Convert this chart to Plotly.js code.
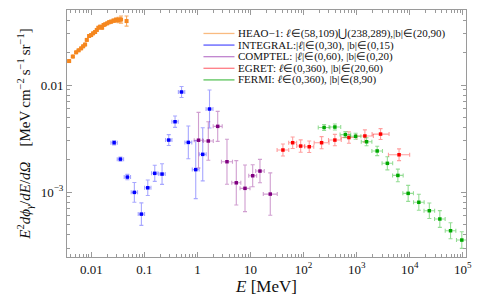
<!DOCTYPE html>
<html>
<head>
<meta charset="utf-8">
<script src="https://cdn.plot.ly/plotly-3.0.1.min.js"></script>
<style>
  html, body { margin: 0; padding: 0; background: #fff; }
  #chart { width: 480px; height: 305px; }
</style>
</head>
<body>
<div id="chart"></div>
<script>
// energies in MeV, fluxes E^2 dphi/dE/dOmega in MeV cm^-2 s^-1 sr^-1
// dx / dy are half widths of the error bars in decades

var heaoE = [0.0038, 0.00447, 0.00515, 0.00574, 0.0064, 0.00698, 0.0076, 0.00819, 0.00905, 0.00987,
             0.01076, 0.01174, 0.01264, 0.01355, 0.01459, 0.0159, 0.0170, 0.0181, 0.0198, 0.0216,
             0.0235, 0.0262, 0.0292, 0.0325, 0.0362, 0.0460];
var heaoF = [0.01675, 0.01845, 0.0202, 0.0211, 0.0220, 0.0230, 0.0239, 0.0264, 0.0287, 0.0293,
             0.0304, 0.0313, 0.0327, 0.0343, 0.0351, 0.0343, 0.0364, 0.0369, 0.0377, 0.0386,
             0.0391, 0.0399, 0.0405, 0.0405, 0.0409, 0.0396];
var heaoDx = [0.006, 0.006, 0.006, 0.006, 0.006, 0.006, 0.006, 0.006, 0.006, 0.006,
              0.006, 0.006, 0.006, 0.006, 0.006, 0.006, 0.006, 0.006, 0.006, 0.006,
              0.006, 0.006, 0.006, 0.006, 0.008, 0.012];
var heaoDy = [0.008, 0.008, 0.008, 0.008, 0.008, 0.008, 0.008, 0.008, 0.008, 0.008,
              0.008, 0.008, 0.008, 0.008, 0.008, 0.008, 0.008, 0.008, 0.008, 0.010,
              0.012, 0.015, 0.020, 0.025, 0.033, 0.047];

var integralE = [0.0268, 0.0352, 0.0476, 0.0645, 0.0875, 0.1154, 0.1563, 0.2145, 0.287, 0.377,
                 0.500, 0.671, 0.925, 1.253, 1.683];
var integralF = [0.00289, 0.00203, 0.00138, 0.000993, 0.000622, 0.001096, 0.001496, 0.001472, 0.00306, 0.00454,
                 0.00861, 0.00291, 0.00162, 0.00225, 0.00597];
var integralDx = [0.06, 0.06, 0.06, 0.06, 0.06, 0.06, 0.06, 0.06, 0.06, 0.06,
                  0.06, 0.065, 0.065, 0.065, 0.065];
var integralDy = [0.02, 0.02, 0.025, 0.092, 0.105, 0.072, 0.075, 0.096, 0.051, 0.053,
                  0.051, 0.153, 0.271, 0.248, 0.178];

var comptelE = [1.044, 1.597, 2.40, 3.59, 5.38, 7.85, 10.96, 15.03, 23.5];
var comptelF = [0.00305, 0.00300, 0.00411, 0.00192, 0.00122, 0.001083, 0.00142, 0.00157, 0.000957];
var comptelDx = [0.081, 0.094, 0.085, 0.104, 0.085, 0.094, 0.075, 0.081, 0.132];
var comptelDy = [0.26, 0.18, 0.14, 0.21, 0.207, 0.218, 0.103, 0.109, 0.198];

var egretE = [40.7, 62.1, 87.9, 127.5, 218, 388, 713, 1427, 2817, 6285];
var egretF = [0.00247, 0.00289, 0.00269, 0.00265, 0.00289, 0.00306, 0.00323, 0.00334, 0.00348, 0.00223];
var egretDx = [0.11, 0.075, 0.075, 0.085, 0.14, 0.12, 0.15, 0.16, 0.16, 0.2];
var egretDy = [0.056, 0.054, 0.058, 0.054, 0.057, 0.053, 0.054, 0.057, 0.051, 0.055];

var fermiE = [243, 388, 612, 953, 1535, 2432, 3784, 5970, 9330, 14830,
              23380, 36900, 58700, 95700];
var fermiF = [0.00401, 0.00405, 0.00344, 0.00332, 0.00295, 0.00242, 0.001855, 0.00143, 0.000972, 0.000802,
              0.000669, 0.000560, 0.000435, 0.000356];
var fermiDx = [0.11, 0.11, 0.1, 0.1, 0.1, 0.1, 0.1, 0.1, 0.1, 0.1, 0.1, 0.1, 0.1, 0.1];
var fermiDy = [0.028, 0.028, 0.028, 0.028, 0.037, 0.044, 0.061, 0.059, 0.075, 0.075,
               0.072, 0.078, 0.075, 0.078];

var legendLabels = [
    'HEAO\u22121: <i>\u2113</i>\u2208(58,109)\u22c3(238,289),|b|\u2208(20,90)',
    'INTEGRAL:|<i>\u2113</i>|\u2208(0,30), |b|\u2208(0,15)',
    'COMPTEL: |<i>\u2113</i>|\u2208(0,60), |b|\u2208(0,20)',
    'EGRET: <i>\u2113</i>\u2208(0,360), |b|\u2208(20,60)',
    'FERMI: <i>\u2113</i>\u2208(0,360), |b|\u2208(8,90)'
];

var xTickVals = [0.01, 0.1, 1, 10, 100, 1000, 10000, 100000];
var xTickText = ['0.01', '0.1', '1', '10', '10<sup>2</sup>', '10<sup>3</sup>', '10<sup>4</sup>', '10<sup>5</sup>'];
var yTickVals = [0.001, 0.01];
var yTickText = ['10<sup>\u22123</sup>', '0.01'];

var serif = '"Liberation Serif", "Times New Roman", serif';
var frameColor = '#9a9a9a';

// log-symmetric error bars from half widths in decades
function logErr(v, d, col, thick, capw) {
    return {
        type: 'data', symmetric: false,
        array: v.map(function(a, i) { return a * (Math.pow(10, d[i]) - 1); }),
        arrayminus: v.map(function(a, i) { return a * (1 - Math.pow(10, -d[i])); }),
        color: col, thickness: thick, width: capw
    };
}

function series(x, y, dx, dy, markCol, barCol, size) {
    return {
        type: 'scatter', mode: 'markers',
        x: x, y: y,
        marker: {symbol: 'square', size: size, color: markCol},
        error_x: logErr(x, dx, barCol, 1.1, 2),
        error_y: logErr(y, dy, barCol, 1.1, 2),
        showlegend: false, hoverinfo: 'x+y'
    };
}

var data = [
    series(heaoE, heaoF, heaoDx, heaoDy, '#f5871f', 'rgba(245,135,31,0.7)', 4),
    series(integralE, integralF, integralDx, integralDy, '#0000ff', 'rgba(60,60,255,0.45)', 3.5),
    series(comptelE, comptelF, comptelDx, comptelDy, '#800080', 'rgba(150,40,150,0.45)', 3.5),
    series(egretE, egretF, egretDx, egretDy, '#ff0000', 'rgba(255,40,40,0.45)', 3.5),
    series(fermiE, fermiF, fermiDx, fermiDy, '#00a800', 'rgba(20,180,20,0.45)', 3.5)
];

var legendColors = ['#f9bb80', '#5a5aff', '#c084cf', '#ff7c84', '#5cc45c'];
var legendRowsY = [0.905, 0.858, 0.811, 0.764, 0.717];

// minor ticks 2..9 in every decade
var xMinor = [], yMinor = [];
for (var p = -3; p <= 5; p++) {
    for (var m = 2; m <= 9; m++) {
        xMinor.push(m * Math.pow(10, p));
        yMinor.push(m * Math.pow(10, p - 2));
    }
}

var shapes = [], annotations = [];
legendLabels.forEach(function(lab, i) {
    shapes.push({type: 'line', xref: 'paper', yref: 'paper',
        x0: 0.342, x1: 0.4198, y0: legendRowsY[i], y1: legendRowsY[i],
        line: {color: legendColors[i], width: 1.3}});
    annotations.push({xref: 'paper', yref: 'paper', x: 0.424, y: legendRowsY[i],
        xanchor: 'left', yanchor: 'middle', showarrow: false, text: lab,
        font: {family: serif, size: 11, color: '#111'}});
});

var axisCommon = {
    type: 'log', showgrid: false, zeroline: false,
    showline: true, linecolor: frameColor, linewidth: 1, mirror: 'allticks',
    ticks: 'inside', ticklen: 5, tickcolor: frameColor, tickwidth: 1,
    tickfont: {family: serif, size: 13, color: '#111'},
    tickmode: 'array'
};

var layout = {
    width: 480, height: 305,
    margin: {l: 67, r: 14, t: 10, b: 48},
    paper_bgcolor: '#fff', plot_bgcolor: '#fff',
    font: {family: serif, color: '#111'},
    xaxis: Object.assign({}, axisCommon, {
        range: [-2.46, 5.06],
        tickvals: xTickVals, ticktext: xTickText,
        minor: {tickmode: 'array', tickvals: xMinor, ticks: 'inside', ticklen: 3, tickcolor: frameColor},
        title: {text: '<i>E</i> [MeV]', font: {family: serif, size: 17, color: '#111'}, standoff: 4}
    }),
    yaxis: Object.assign({}, axisCommon, {
        range: [-3.607, -1.299],
        tickvals: yTickVals, ticktext: yTickText,
        minor: {tickmode: 'array', tickvals: yMinor, ticks: 'inside', ticklen: 3, tickcolor: frameColor},
        title: {text: '<i>E</i><sup>2</sup><i>d\u03d5</i><sub><i>\u03b3</i></sub>/<i>dE</i>/<i>d\u03a9</i>\u2003[MeV\u2009cm<sup>\u22122</sup>\u2009s<sup>\u22121</sup>\u2009sr<sup>\u22121</sup>]',
                font: {family: serif, size: 15, color: '#111'}, standoff: 6}
    }),
    shapes: shapes,
    annotations: annotations
};

Plotly.newPlot('chart', data, layout, {displayModeBar: false, staticPlot: true});
</script>
</body>
</html>
